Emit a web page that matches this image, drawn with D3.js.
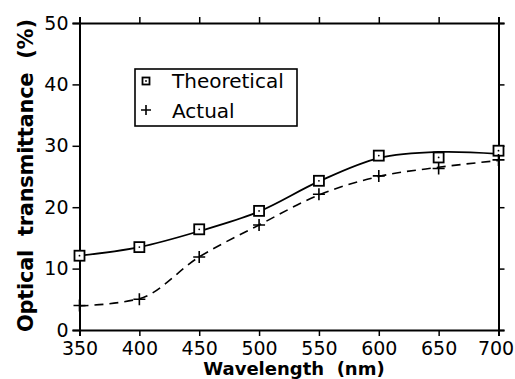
<!DOCTYPE html>
<html>
<head>
<meta charset="utf-8">
<script src="https://cdn.jsdelivr.net/npm/d3@7"></script>
<style>
body { margin: 0; background: #fff; }
svg { display: block; font-family: "DejaVu Sans", sans-serif; }
</style>
</head>
<body>
<svg id="chart" width="515" height="379"></svg>
<script>
// measured points
var wavelengths = [350, 400, 450, 500, 550, 600, 650, 700];
var theoretical = [12.1, 13.5, 16.4, 19.4, 24.3, 28.4, 28.1, 29.2];
var actual = [4.0, 5.0, 11.9, 17.1, 22.1, 25.1, 26.3, 27.7];

// fitted curves as drawn in the figure (read at the same wavelengths)
var theoreticalFit = [12.1, 13.5, 16.1, 19.3, 24.2, 28.0, 29.0, 28.7];
var actualFit = [3.9, 5.1, 11.9, 17.1, 22.0, 25.0, 26.5, 27.6];

var xTicks = [350, 400, 450, 500, 550, 600, 650, 700];
var yTicks = [0, 10, 20, 30, 40, 50];
var legendLabels = ["Theoretical", "Actual"];

var svg = d3.select('#chart');
var plotLeft = 79.5, plotRight = 498.5, plotTop = 23, plotBottom = 330;

var x = d3.scaleLinear().domain([350, 700]).range([plotLeft, plotRight]);
var y = d3.scaleLinear().domain([0, 50]).range([plotBottom, plotTop]);

// axes - ticks point outward on all four sides
function styleAxis(g) {
	g.select('.domain').attr('stroke-width', 2).attr('stroke', '#000');
	g.selectAll('.tick line').attr('stroke-width', 1.5).attr('stroke', '#000');
	g.selectAll('.tick text').attr('font-size', 19).attr('fill', '#000')
		.attr('font-family', '"DejaVu Sans", sans-serif');
}

var xAxisG = svg.append('g').attr('transform', 'translate(0,' + plotBottom + ')')
	.call(d3.axisBottom(x).tickValues(xTicks).tickSizeOuter(0).tickSize(6).tickPadding(6))
	.call(styleAxis);
// last label sits a little left so it stays inside the page
xAxisG.selectAll('.tick text').filter(function (d) { return d === 700; }).attr('dx', -3);

svg.append('g').attr('transform', 'translate(0,' + plotTop + ')')
	.call(d3.axisTop(x).tickValues(xTicks).tickSizeOuter(0).tickSize(6).tickFormat(''))
	.call(styleAxis);
svg.append('g').attr('transform', 'translate(' + plotLeft + ',0)')
	.call(d3.axisLeft(y).tickValues(yTicks).tickSizeOuter(0).tickSize(7).tickPadding(4))
	.call(styleAxis);
svg.append('g').attr('transform', 'translate(' + plotRight + ',0)')
	.call(d3.axisRight(y).tickValues(yTicks).tickSizeOuter(0).tickSize(6).tickFormat(''))
	.call(styleAxis);

// axis titles
svg.append('text')
	.attr('x', 294).attr('y', 375)
	.attr('text-anchor', 'middle')
	.attr('font-size', 18).attr('font-weight', 'bold')
	.attr('xml:space', 'preserve')
	.text('Wavelength  (nm)');

svg.append('text')
	.attr('transform', 'translate(33,175.5) rotate(-90)')
	.attr('text-anchor', 'middle')
	.attr('font-size', 21).attr('font-weight', 'bold')
	.attr('textLength', 313).attr('lengthAdjust', 'spacing')
	.attr('xml:space', 'preserve')
	.text('Optical  transmittance  (%)');

// curves
var theoLine = d3.line()
	.x(function (d, i) { return x(wavelengths[i]); })
	.y(function (d) { return y(d); })
	.curve(d3.curveCatmullRom.alpha(0.5));
var actLine = d3.line()
	.x(function (d, i) { return x(wavelengths[i]); })
	.y(function (d) { return y(d); })
	.curve(d3.curveMonotoneX);

svg.append('path').datum(theoreticalFit)
	.attr('d', theoLine)
	.attr('fill', 'none').attr('stroke', '#000').attr('stroke-width', 1.8);

svg.append('path').datum(actualFit)
	.attr('d', actLine)
	.attr('fill', 'none').attr('stroke', '#000').attr('stroke-width', 1.6)
	.attr('stroke-dasharray', '9,6');

// markers
function square(sel, s) {
	sel.append('rect')
		.attr('x', -s / 2).attr('y', -s / 2).attr('width', s).attr('height', s)
		.attr('fill', '#fff').attr('stroke', '#000').attr('stroke-width', 1.8);
	sel.append('circle').attr('r', 0.9).attr('fill', '#000');
}
function plus(sel, s) {
	sel.append('path')
		.attr('d', 'M' + (-s / 2) + ',0H' + (s / 2) + 'M0,' + (-s / 2) + 'V' + (s / 2))
		.attr('stroke', '#000').attr('stroke-width', 1.6).attr('fill', 'none');
}

svg.selectAll('.theo').data(theoretical).enter().append('g')
	.attr('class', 'theo')
	.attr('transform', function (d, i) { return 'translate(' + x(wavelengths[i]) + ',' + y(d) + ')'; })
	.call(square, 10);

svg.selectAll('.act').data(actual).enter().append('g')
	.attr('class', 'act')
	.attr('transform', function (d, i) { return 'translate(' + x(wavelengths[i]) + ',' + y(d) + ')'; })
	.call(plus, 12);

// legend
var legend = svg.append('g');
legend.append('rect')
	.attr('x', 135).attr('y', 69).attr('width', 162).attr('height', 57)
	.attr('fill', '#fff').attr('stroke', '#000').attr('stroke-width', 1.6);

legend.append('g').attr('transform', 'translate(146,81)').call(square, 7);
legend.append('g').attr('transform', 'translate(146,110)').call(plus, 10);

legend.selectAll('.lbl').data(legendLabels).enter().append('text')
	.attr('class', 'lbl')
	.attr('x', 172)
	.attr('y', function (d, i) { return 88 + i * 30; })
	.attr('font-size', 20)
	.text(function (d) { return d; });
</script>
</body>
</html>
